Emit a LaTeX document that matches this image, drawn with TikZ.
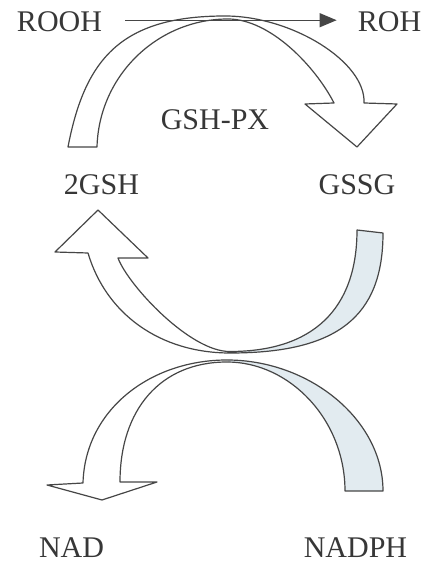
\documentclass[tikz,border=0pt]{standalone}
\usepackage{fontspec}
\setmainfont{Liberation Serif}
\usetikzlibrary{arrows.meta}
\definecolor{linecol}{RGB}{70,70,70}
\definecolor{textcol}{RGB}{55,55,55}
\definecolor{bandfill}{RGB}{226,235,240}
\newcommand\topbandpath[1]{\path[#1] (68,415) .. controls (85,504) and (122,546) .. (225,546) .. controls (292,546) and (366,500) .. (364,459) -- (397,458) -- (357,415) -- (305,458) -- (334,459) .. controls (315,496) and (270,543) .. (228,543) .. controls (158,543) and (99,487) .. (97,415) -- cycle;}
\newcommand\midbandpath[1]{\path[#1] (357,332) -- (383,329) .. controls (383,245) and (337,209) .. (230,209) .. controls (160,209) and (106,248) .. (88,309) -- (55,310) -- (98,352) -- (148,304) -- (118,304) .. controls (128,277) and (190,210) .. (230,210.5) .. controls (313,210.5) and (357,253) .. (357,332) -- cycle;}
\newcommand\lowbandpath[1]{\path[#1] (345,71) -- (383,71) .. controls (383,142) and (310,202) .. (227,202) .. controls (150,202) and (85,152) .. (83,79) -- (47,77) -- (102,62) -- (157,80) -- (120,80) .. controls (120,152) and (160,200) .. (227,200) .. controls (290,200) and (345,142) .. (345,71) -- cycle;}
\tikzset{
  lbl/.style={inner sep=0pt, anchor=base, text=textcol, font=\fontsize{30}{36}\selectfont},
  outline/.style={draw=linecol, line width=1.2pt, line join=round},
}
\begin{document}
\begin{tikzpicture}[x=1pt,y=1pt]
\useasboundingbox (0,0) rectangle (427,562);
\fill[white] (0,0) rectangle (427,562);
% labels
\node[lbl] (rooh) at (59.5,530) {ROOH};
\node[lbl] (roh) at (389.5,530) {ROH};
\node[lbl] (gshpx) at (215,432) {GSH-PX};
\node[lbl] (gsh) at (101.5,367) {2GSH};
\node[lbl] (gssg) at (357,367) {GSSG};
\node[lbl] (nad) at (71.5,5) {NAD};
\node[lbl] (nadph) at (355.5,5) {NADPH};
% top band arrow
\topbandpath{outline, fill=white}
% middle band
\begin{scope}
\clip (230,0) rectangle (427,562);
\midbandpath{fill=bandfill}
\end{scope}
\midbandpath{outline}
% lower band
\begin{scope}
\clip (228,0) rectangle (427,562);
\lowbandpath{fill=bandfill}
\end{scope}
\lowbandpath{outline}
% reaction arrow
\draw[draw=linecol, line width=1.2pt, -{Triangle[length=17pt,width=14pt]}, shorten <=23pt, shorten >=21pt] (rooh.east) ++(0,2) -- ([yshift=2pt]roh.west);
\end{tikzpicture}
\end{document}
